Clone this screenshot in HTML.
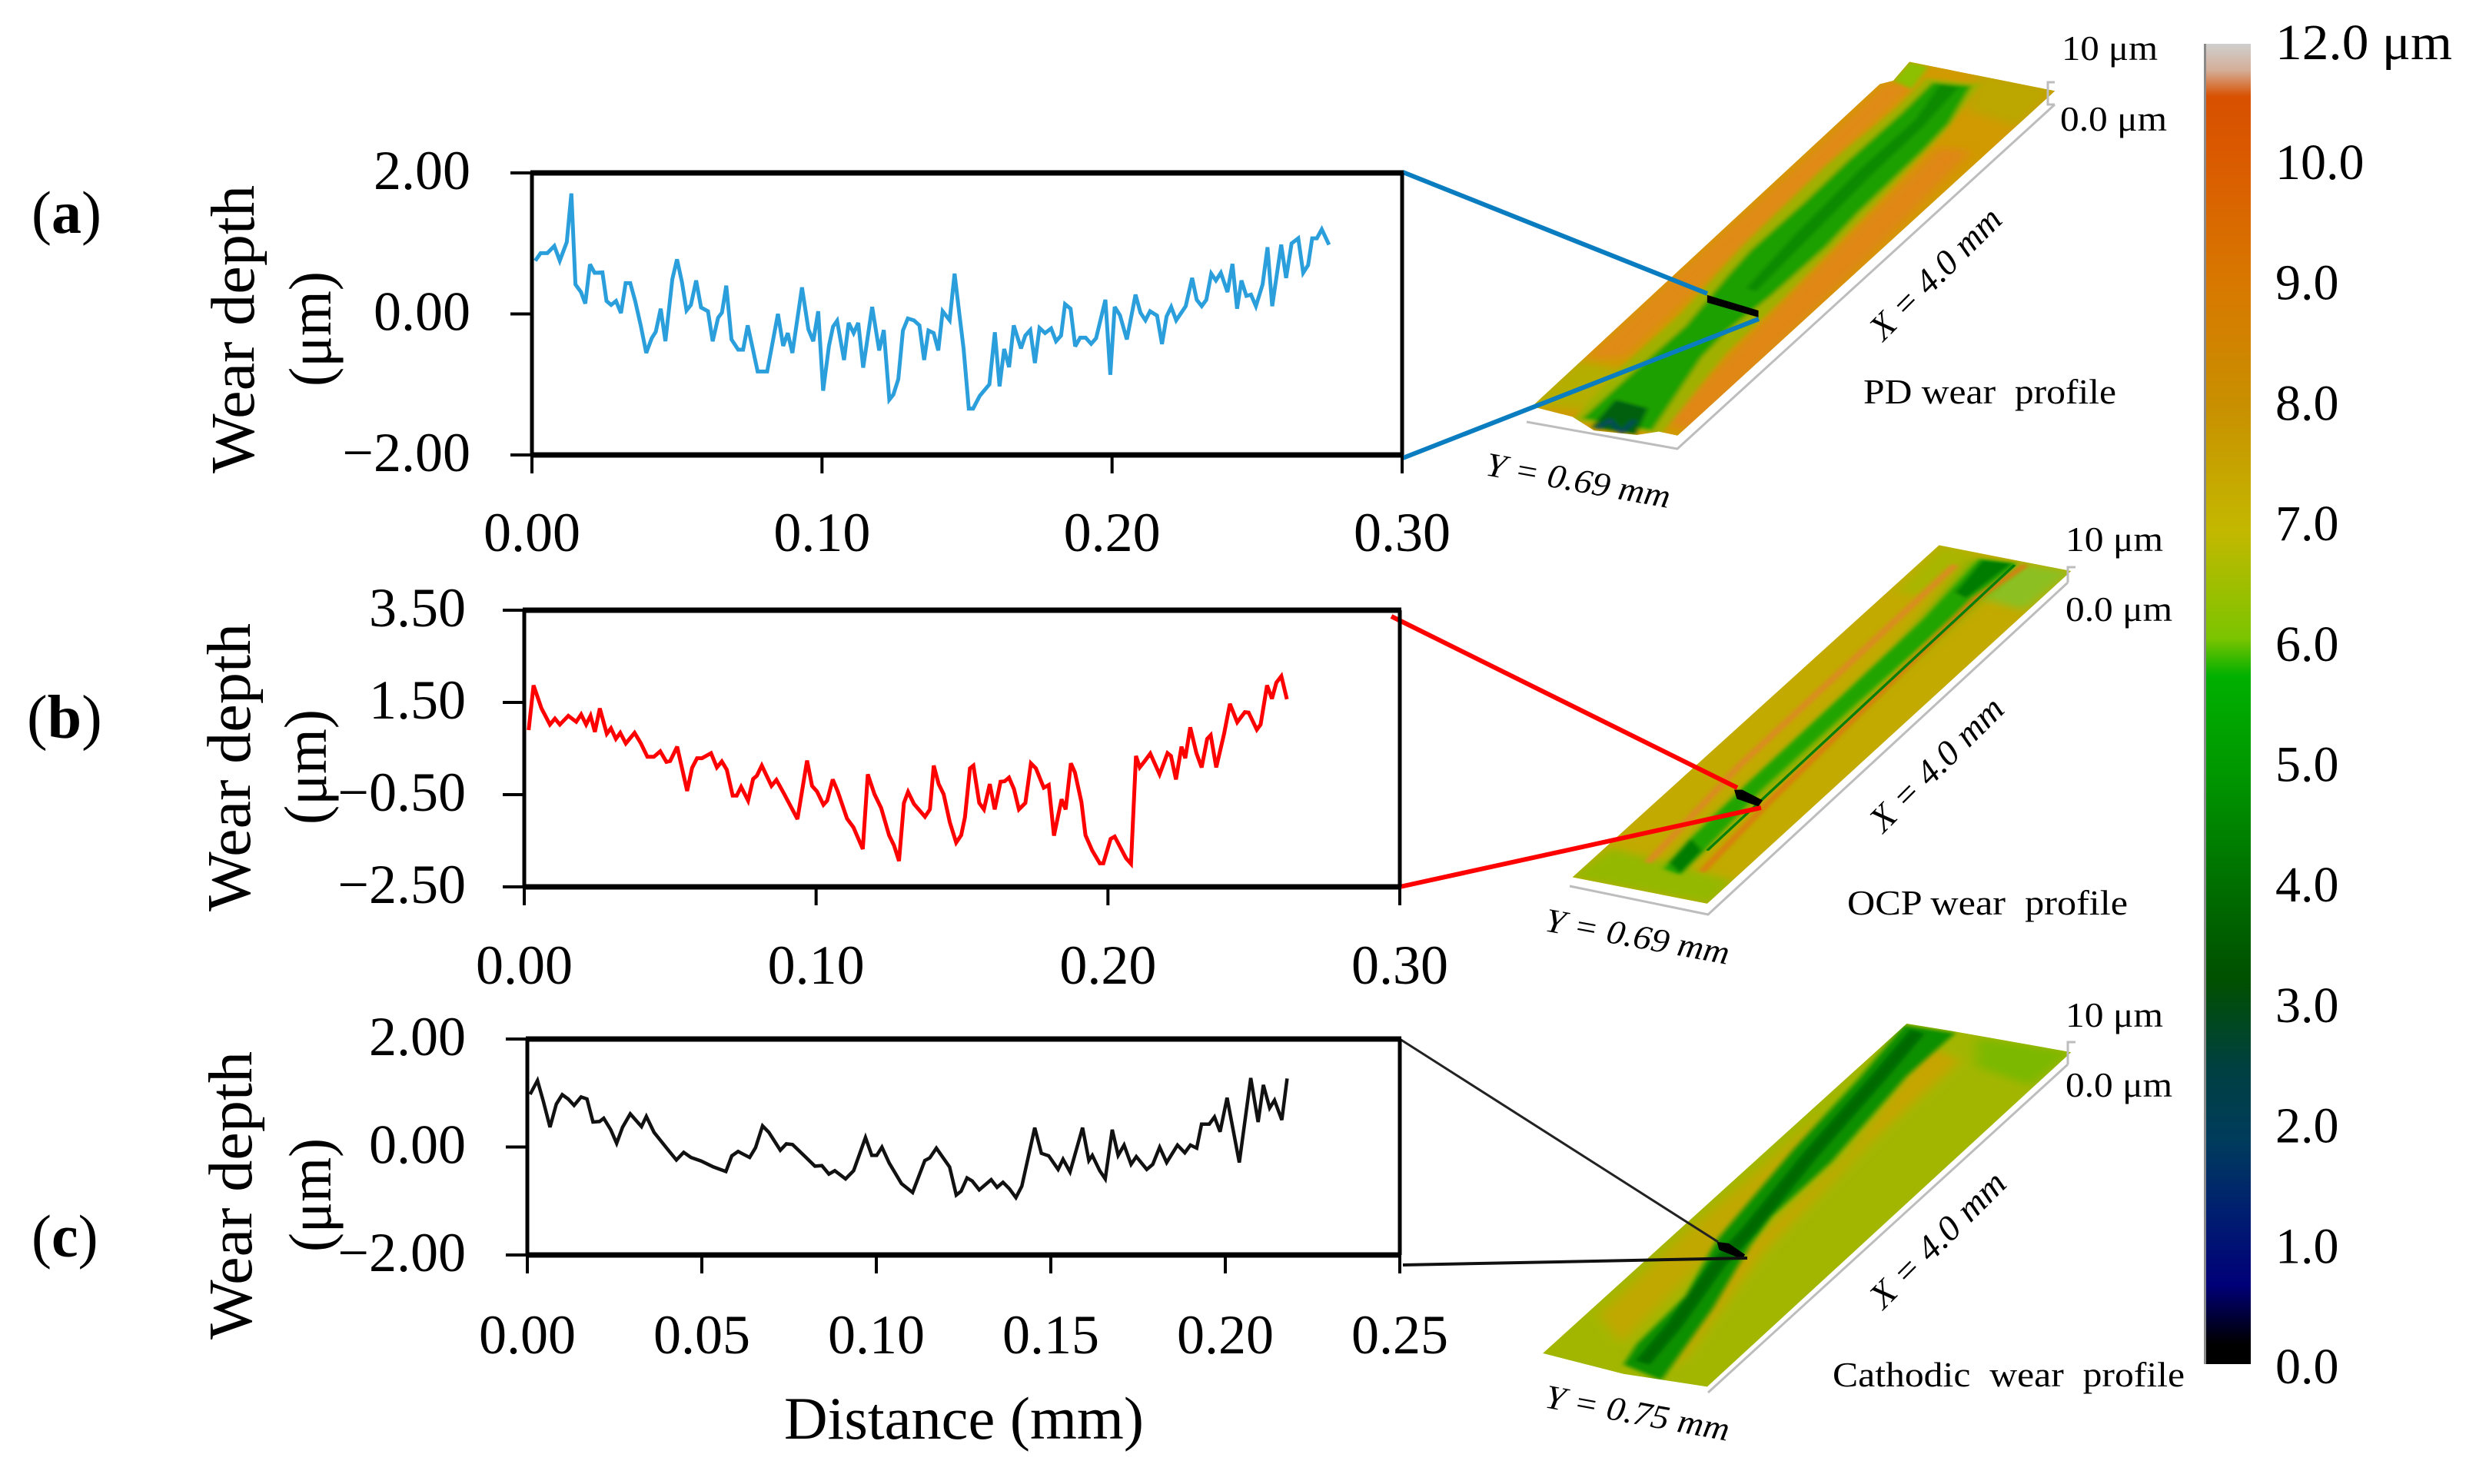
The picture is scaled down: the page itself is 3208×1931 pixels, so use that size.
<!DOCTYPE html>
<html lang="en">
<head>
<meta charset="utf-8">
<title>Wear depth profiles</title>
<style>
html,body{margin:0;padding:0;background:#fff}
svg{display:block}
text{font-family:"Liberation Serif",serif;fill:#000}
</style>
</head>
<body>
<svg id="fig" xmlns="http://www.w3.org/2000/svg" width="3208" height="1931" viewBox="0 0 3208 1931">
<defs>
<filter id="b6" filterUnits="userSpaceOnUse" x="0" y="0" width="2000" height="2000"><feGaussianBlur stdDeviation="5"/></filter>
<filter id="b14" filterUnits="userSpaceOnUse" x="0" y="0" width="2000" height="2000"><feGaussianBlur stdDeviation="12"/></filter>
<clipPath id="clipA"><polygon points="975,180 1245,265 545,1270 510,1258 470,1268 390,1255 350,1215 275,1185 920,245 945,235"/></clipPath>
<clipPath id="clipB"><polygon points="1030,125 1275,210 600,1305 350,1218"/></clipPath>
<clipPath id="clipC"><polygon points="970,125 1060,150 1275,215 600,1265 445,1225 295,1160"/></clipPath>
<linearGradient id="cbar" gradientUnits="userSpaceOnUse" x1="0" y1="57" x2="0" y2="1775">
<stop offset="0" stop-color="#cfcfcf"/>
<stop offset="0.02" stop-color="#d4ae98"/>
<stop offset="0.04" stop-color="#d85000"/>
<stop offset="0.085" stop-color="#da5a00"/>
<stop offset="0.182" stop-color="#d87800"/>
<stop offset="0.275" stop-color="#c89000"/>
<stop offset="0.368" stop-color="#c4b800"/>
<stop offset="0.45" stop-color="#7cc400"/>
<stop offset="0.479" stop-color="#00b000"/>
<stop offset="0.55" stop-color="#009800"/>
<stop offset="0.648" stop-color="#006a00"/>
<stop offset="0.709" stop-color="#005000"/>
<stop offset="0.775" stop-color="#004040"/>
<stop offset="0.83" stop-color="#003c5c"/>
<stop offset="0.885" stop-color="#001f70"/>
<stop offset="0.94" stop-color="#000078"/>
<stop offset="0.985" stop-color="#000000"/>
<stop offset="1" stop-color="#000000"/>
</linearGradient>
</defs>
<rect width="3208" height="1931" fill="#fff"/>

<!-- Surface A -->
<g transform="translate(1800,0) scale(0.7015,0.4464)">
<g clip-path="url(#clipA)">
<polygon points="975,180 1245,265 545,1270 510,1258 470,1268 390,1255 350,1215 275,1185 920,245 945,235" fill="#d09a00"/>
<g filter="url(#b14)">
<polygon points="925,245 990,240 800,520 600,820 450,1040 370,1050 540,800 760,490" fill="#e08a14"/>
<polygon points="520,1230 570,1260 920,720 1090,440 1030,430 860,690" fill="#e08612"/>
<polygon points="260,1180 400,1200 480,1090 360,1050" fill="#b4ae00"/>
<polygon points="1100,210 1250,260 1180,370 1080,320" fill="#bca600"/>
</g>
<polygon points="945,235 975,180 1010,195 980,260" fill="#8cc000" filter="url(#b6)"/>
<g filter="url(#b6)">
<polygon opacity="0.85" points="1005,228 1108,245 1040,385 885,640 735,880 635,1030 515,1265 350,1225 440,1070 550,915 670,710 822,480 950,315" fill="#98b400"/>
<polygon points="1018,240 1090,250 1048,360 1000,440 880,620 820,720 720,860 640,960 590,1040 498,1255 368,1220 452,1100 560,950 640,800 680,730 780,590 860,470 960,330" fill="#1ea000"/>
<polygon opacity="0.8" points="1032,245 1066,255 1000,370 905,510 785,700 690,850 672,840 765,680 885,490 985,350" fill="#0c8400"/>
<polygon points="385,1245 468,1266 490,1190 430,1165" fill="#00600a"/>
<polyline points="395,1250 420,1225 440,1262 465,1225" fill="none" stroke="#0a3a70" stroke-width="6"/>
</g>
</g>
<polygon points="600,860 695,905 695,925 600,882" fill="#000"/>
</g>

<!-- Surface B -->
<g transform="translate(1800,660) scale(0.7015,0.3953)">
<g clip-path="url(#clipB)">
<polygon points="1030,125 1275,210 600,1305 350,1218" fill="#c2aa00"/>
<g filter="url(#b14)">
<polygon points="340,1218 610,1310 650,1230 420,1120" fill="#94b800"/>
<polygon points="1030,125 1100,150 1000,290 950,280" fill="#a9b600"/>
<polygon points="1180,185 1280,210 1190,340 1110,300" fill="#8cc020"/>
<polygon points="1090,170 1180,190 1000,470 800,790 670,1000 540,1210 520,1180 600,1040 780,760 950,470" fill="#70b400"/>
</g>
<g filter="url(#b6)">
<polyline points="1060,190 660,850 490,1170" fill="none" stroke="#dc8a20" stroke-width="14"/>
<polygon points="1105,170 1175,185 1040,390 880,640 700,930 600,1120 550,1210 520,1190 570,1090 680,900 850,620 1000,370" fill="#22a400"/>
<polygon points="1110,175 1165,185 1080,300 1060,280" fill="#007c00"/>
<polygon points="530,1170 570,1090 590,1130 550,1205" fill="#007c00"/>
<polyline points="1190,190 1100,300 950,560 720,960 590,1200" fill="none" stroke="#dc7c10" stroke-width="12"/>
</g>
<polyline points="1170,190 600,1130" fill="none" stroke="#00800a" stroke-width="6"/>
</g>
<polygon points="650,930 665,930 703,965 695,985 655,960" fill="#000"/>
</g>

<!-- Surface C -->
<g transform="translate(1800,1280) scale(0.7015,0.4146)">
<g clip-path="url(#clipC)">
<polygon points="970,125 1060,150 1275,215 600,1265 445,1225 295,1160" fill="#a2b600"/>
<g filter="url(#b14)">
<polygon points="820,400 740,520 560,780 400,1040 440,1130 620,830 780,560" fill="#c0a800"/>
<polygon points="1010,200 1070,240 900,500 700,850 560,1170 520,1220 640,880 860,540" fill="#c6a400"/>
<polygon points="1100,170 1275,215 1200,320 1100,260" fill="#7cb800"/>
</g>
<g filter="url(#b6)">
<polygon points="965,130 1060,155 970,290 830,560 720,730 680,820 610,1020 515,1245 445,1195 470,1130 560,980 620,800 760,520 880,300" fill="#0e9000"/>
<polyline points="990,150 920,290 790,540 680,770 620,880 540,1070 480,1190" fill="none" stroke="#006a00" stroke-width="30"/>
</g>
</g>
<polygon points="618,810 640,815 670,850 665,865 622,835" fill="#000"/>
</g>

<!-- Grey 3-D axes -->
<g fill="none" stroke="#bdbdbd" stroke-width="3">
<polyline points="1986,549 2182,584 2673,136"/>
<polyline points="2673,107 2664,107 2664,136 2673,136"/>
<polyline points="2042,1153 2222,1190 2690,758"/>
<polyline points="2700,738 2690,738 2690,758"/>
<polyline points="2222,1812 2690,1385"/>
<polyline points="2700,1356 2690,1356 2690,1385"/>
</g>

<!-- Connector lines -->
<line x1="1825" y1="224" x2="2221" y2="382" stroke="#0a7cc0" stroke-width="6"/>
<line x1="1825" y1="596" x2="2288" y2="415" stroke="#0a7cc0" stroke-width="6"/>
<line x1="1810" y1="802" x2="2260" y2="1025" stroke="#ff0000" stroke-width="6"/>
<line x1="1821" y1="1154" x2="2291" y2="1051" stroke="#ff0000" stroke-width="6"/>
<line x1="1821" y1="1352" x2="2235" y2="1616" stroke="#222" stroke-width="3"/>
<line x1="1825" y1="1646" x2="2273" y2="1637" stroke="#111" stroke-width="4"/>

<!-- Static labels -->
<text x="41" y="303" font-size="78">(<tspan font-weight="bold">a</tspan>)</text>
<text x="35" y="960" font-size="80">(<tspan font-weight="bold">b</tspan>)</text>
<text x="41" y="1635" font-size="78">(<tspan font-weight="bold">c</tspan>)</text>

<text transform="translate(330,616) rotate(-90)" font-size="80" textLength="375" lengthAdjust="spacingAndGlyphs">Wear depth</text>
<text transform="translate(430,503) rotate(-90)" font-size="78" textLength="150" lengthAdjust="spacingAndGlyphs">(μm)</text>
<text transform="translate(325,1186) rotate(-90)" font-size="80" textLength="375" lengthAdjust="spacingAndGlyphs">Wear depth</text>
<text transform="translate(424,1073) rotate(-90)" font-size="78" textLength="150" lengthAdjust="spacingAndGlyphs">(μm)</text>
<text transform="translate(327,1743) rotate(-90)" font-size="80" textLength="375" lengthAdjust="spacingAndGlyphs">Wear depth</text>
<text transform="translate(430,1629) rotate(-90)" font-size="78" textLength="148" lengthAdjust="spacingAndGlyphs">(μm)</text>
<text x="1020" y="1872" font-size="78" textLength="468" lengthAdjust="spacingAndGlyphs">Distance (mm)</text>

<text x="2682" y="78" font-size="46" textLength="125" lengthAdjust="spacingAndGlyphs">10 μm</text>
<text x="2680" y="170" font-size="46" textLength="139" lengthAdjust="spacingAndGlyphs">0.0 μm</text>
<text x="2424" y="525" font-size="46" textLength="329" lengthAdjust="spacingAndGlyphs" xml:space="preserve">PD wear  profile</text>
<text transform="translate(2450,445) rotate(-45)" font-size="46" font-style="italic" textLength="222" lengthAdjust="spacingAndGlyphs">X = 4.0 mm</text>
<text transform="translate(1931,618) rotate(10.2)" font-size="44" font-style="italic" textLength="243" lengthAdjust="spacingAndGlyphs">Y = 0.69 mm</text>

<text x="2687" y="717" font-size="46" textLength="127" lengthAdjust="spacingAndGlyphs">10 μm</text>
<text x="2687" y="808" font-size="46" textLength="139" lengthAdjust="spacingAndGlyphs">0.0 μm</text>
<text x="2403" y="1190" font-size="46" textLength="365" lengthAdjust="spacingAndGlyphs" xml:space="preserve">OCP wear  profile</text>
<text transform="translate(2450,1085) rotate(-45)" font-size="46" font-style="italic" textLength="226" lengthAdjust="spacingAndGlyphs">X = 4.0 mm</text>
<text transform="translate(2008,1211) rotate(10.4)" font-size="44" font-style="italic" textLength="243" lengthAdjust="spacingAndGlyphs">Y = 0.69 mm</text>

<text x="2687" y="1336" font-size="46" textLength="127" lengthAdjust="spacingAndGlyphs">10 μm</text>
<text x="2687" y="1427" font-size="46" textLength="139" lengthAdjust="spacingAndGlyphs">0.0 μm</text>
<text x="2384" y="1804" font-size="46" textLength="458" lengthAdjust="spacingAndGlyphs" xml:space="preserve">Cathodic  wear  profile</text>
<text transform="translate(2450,1705) rotate(-45)" font-size="46" font-style="italic" textLength="230" lengthAdjust="spacingAndGlyphs">X = 4.0 mm</text>
<text transform="translate(2008,1831) rotate(10.4)" font-size="44" font-style="italic" textLength="243" lengthAdjust="spacingAndGlyphs">Y = 0.75 mm</text>

<!-- Colour bar -->
<rect x="2867" y="57" width="61" height="1718" fill="url(#cbar)"/>
<rect x="2867" y="57" width="3" height="1718" fill="#8a8a8a"/>
<g id="colorbarLabels"></g>
<g id="plots"></g>
</svg>

<script>
// Panel (a) PD wear profile: distance in mm, depth in um
const pdDistance = [.0011,.0030,.0053,.0077,.0096,.0120,.0136,.0150,.0169,.0184,.0200,.0216,.0243,.0257,.0273,.0290,.0307,.0323,.0339,.0356,.0375,.0394,.0413,.0427,.0444,.0460,.0484,.0500,.0517,.0533,.0548,.0566,.0583,.0607,.0623,.0642,.0655,.0670,.0688,.0711,.0728,.0744,.0761,.0778,.0811,.0848,.0866,.0882,.0898,.0931,.0953,.0970,.0987,.1004,.1024,.1038,.1052,.1076,.1092,.1109,.1125,.1142,.1173,.1197,.1213,.1232,.1246,.1263,.1279,.1296,.1317,.1336,.1352,.1367,.1385,.1401,.1416,.1440,.1457,.1473,.1488,.1506,.1521,.1544,.1577,.1596,.1612,.1628,.1645,.1661,.1686,.1701,.1718,.1734,.1750,.1769,.1790,.1807,.1824,.1838,.1857,.1873,.1890,.1909,.1928,.1945,.1977,.1994,.2009,.2027,.2051,.2081,.2098,.2115,.2131,.2155,.2172,.2188,.2204,.2221,.2254,.2276,.2292,.2309,.2325,.2342,.2358,.2375,.2398,.2415,.2431,.2446,.2463,.2479,.2496,.2519,.2536,.2552,.2583,.2600,.2619,.2642,.2659,.2676,.2690,.2706,.2723,.2748];
const pdDepth = [.754,.862,.862,.964,.754,1.019,1.709,.419,.310,.147,.703,.583,.590,.183,.128,.183,.012,.437,.437,.183,-.162,-.554,-.344,-.253,.074,-.387,.492,.775,.455,.049,.128,.474,.092,.038,-.387,-.053,.019,.401,-.362,-.507,-.507,-.162,-.489,-.816,-.816,.001,-.453,-.271,-.554,.376,-.217,-.387,.038,-1.089,-.453,-.180,-.097,-.653,-.126,-.271,-.126,-.762,.099,-.518,-.228,-1.216,-1.143,-.925,-.235,-.064,-.090,-.162,-.653,-.235,-.271,-.518,.038,-.090,.572,.020,-.489,-1.343,-1.343,-1.161,-.998,-.260,-1.027,-.496,-.754,-.162,-.489,-.307,-.228,-.696,-.198,-.271,-.206,-.387,-.307,.139,.074,-.460,-.337,-.337,-.424,-.344,.201,-.863,.099,-.017,-.362,.274,.019,-.090,.038,-.024,-.427,-.035,.099,-.090,.110,.510,.201,.110,.201,.572,.474,.583,.310,.710,.074,.474,.256,.274,.110,.419,.946,.110,.982,.510,1.000,1.073,.583,.692,1.073,1.073,1.200,.982];

// Panel (b) OCP wear profile
const ocpDistance = [.0015,.0032,.0059,.0088,.0105,.0122,.0151,.0178,.0195,.0212,.0227,.0242,.0259,.0283,.0297,.0314,.0329,.0348,.0378,.0399,.0422,.0444,.0466,.0487,.0500,.0524,.0558,.0575,.0592,.0609,.0640,.0660,.0677,.0694,.0714,.0728,.0743,.0767,.0784,.0797,.0814,.0847,.0864,.0891,.0936,.0969,.0986,.1003,.1025,.1038,.1057,.1074,.1106,.1128,.1160,.1177,.1200,.1223,.1250,.1267,.1284,.1301,.1315,.1335,.1373,.1390,.1403,.1420,.1437,.1458,.1480,.1497,.1510,.1527,.1539,.1559,.1575,.1595,.1612,.1632,.1646,.1661,.1678,.1695,.1717,.1736,.1753,.1780,.1797,.1815,.1841,.1855,.1873,.1887,.1909,.1923,.1946,.1972,.1984,.2009,.2023,.2062,.2079,.2096,.2109,.2124,.2145,.2177,.2204,.2216,.2233,.2252,.2265,.2282,.2303,.2321,.2340,.2352,.2371,.2398,.2418,.2443,.2469,.2482,.2510,.2523,.2545,.2562,.2577,.2594,.2613];
const ocpDepth = [.90,1.87,1.37,1.02,1.15,1.02,1.21,1.08,1.24,1.02,1.21,.86,1.37,.82,.94,.71,.84,.61,.84,.62,.32,.32,.44,.21,.23,.54,-.42,.08,.29,.29,.40,.09,.22,.04,-.52,-.52,-.33,-.63,-.16,-.09,.13,-.31,-.18,-.49,-1.03,.24,-.31,-.43,-.72,-.63,-.17,-.43,-1.02,-1.21,-1.68,-.06,-.49,-.79,-1.38,-1.60,-1.94,-.68,-.44,-.70,-.98,-.82,.13,-.27,-.49,-1.10,-1.54,-1.38,-.99,.07,.13,-.68,-.82,-.27,-.82,-.22,-.21,-.13,-.38,-.82,-.68,.18,.07,-.35,-.29,-1.39,-.60,-.82,.18,-.02,-.66,-1.38,-1.71,-1.99,-1.99,-1.46,-1.41,-1.88,-2.00,.34,.09,.21,.39,-.06,.40,.34,-.17,.54,.29,.96,.40,.09,.71,.79,.09,.82,1.47,1.07,1.29,1.28,.91,1.02,1.87,1.58,1.93,2.07,1.57];

// Panel (c) Cathodic wear profile
const cathodicDistance = [.0008,.0029,.0046,.0065,.0083,.0100,.0117,.0134,.0154,.0171,.0188,.0207,.0219,.0239,.0256,.0273,.0295,.0327,.0341,.0363,.0401,.0427,.0448,.0469,.0498,.0533,.0569,.0586,.0604,.0618,.0637,.0654,.0674,.0692,.0725,.0742,.0760,.0796,.0824,.0844,.0864,.0881,.0912,.0935,.0969,.0987,.1001,.1016,.1037,.1072,.1104,.1139,.1153,.1172,.1210,.1229,.1243,.1260,.1275,.1295,.1329,.1346,.1363,.1381,.1400,.1417,.1454,.1473,.1494,.1521,.1535,.1555,.1591,.1609,.1619,.1640,.1656,.1676,.1693,.1710,.1730,.1745,.1775,.1792,.1812,.1832,.1863,.1884,.1900,.1918,.1932,.1954,.1969,.1985,.2005,.2040,.2073,.2094,.2109,.2127,.2141,.2162,.2177];
const cathodicDepth = [.975,1.231,.842,.367,.794,.970,.889,.771,.927,.889,.462,.472,.533,.320,.068,.367,.614,.377,.567,.272,-.036,-.240,-.098,-.193,-.259,-.368,-.454,-.164,-.083,-.131,-.193,-.012,.391,.272,-.060,.059,.045,-.178,-.354,-.344,-.501,-.439,-.591,-.439,.177,-.155,-.155,-.003,-.297,-.677,-.843,-.250,-.202,-.022,-.368,-.890,-.819,-.572,-.629,-.795,-.605,-.748,-.653,-.771,-.938,-.724,.358,-.117,-.164,-.416,-.226,-.463,.358,-.250,-.155,-.439,-.591,.320,-.155,.035,-.321,-.178,-.416,-.321,-.003,-.287,.035,-.107,.035,-.022,.424,.424,.557,.282,.913,-.287,1.278,.462,1.150,.723,.866,.500,1.269];

// Tick values
const pdXTicks = [0, 0.10, 0.20, 0.30];
const pdYTicks = [2, 0, -2];
const ocpXTicks = [0, 0.10, 0.20, 0.30];
const ocpYTicks = [3.5, 1.5, -0.5, -2.5];
const cathodicXTicks = [0, 0.05, 0.10, 0.15, 0.20, 0.25];
const cathodicYTicks = [2, 0, -2];
const colorbarTicks = ["12.0 μm", "10.0", "9.0", "8.0", "7.0", "6.0", "5.0", "4.0", "3.0", "2.0", "1.0", "0.0"];

const SVGNS = "http://www.w3.org/2000/svg";

function make(parent, tag, attrs, content) {
  const el = document.createElementNS(SVGNS, tag);
  for (const k in attrs) el.setAttribute(k, attrs[k]);
  if (content !== undefined) el.textContent = content;
  parent.appendChild(el);
  return el;
}

function fmt(v) {
  return (v < 0 ? "\u2212" : "") + Math.abs(v).toFixed(2);
}

function drawPanel(root, key, box, xTicks, yTicks, xs, ys, color, width) {
  const xMax = xTicks[xTicks.length - 1];
  const yMax = Math.max.apply(null, yTicks);
  const yMin = Math.min.apply(null, yTicks);
  const xScale = v => box.left + (v / xMax) * (box.right - box.left);
  const yScale = v => box.top + ((yMax - v) / (yMax - yMin)) * (box.bottom - box.top);

  const g = make(root, "g", {});
  
  

  xTicks.forEach(t => {
    const tick = make(g, "line", {x1: xScale(t), x2: xScale(t), y1: box.bottom, y2: box.bottom + 24, stroke: "#000", "stroke-width": 4});
    
    
    const lab = make(g, "text", {x: xScale(t), y: box.xLabelY, "font-size": 72, "text-anchor": "middle"}, t.toFixed(2));
    
    
  });

  yTicks.forEach(t => {
    const tick = make(g, "line", {x1: box.left - 28, x2: box.left, y1: yScale(t), y2: yScale(t), stroke: "#000", "stroke-width": 4});
    
    
    const lab = make(g, "text", {x: box.yLabelX, y: yScale(t) + 21, "font-size": 72, "text-anchor": "end"}, fmt(t));
    
    
  });

  let d = "";
  xs.forEach((x, i) => {
    d += (i ? "L" : "M") + xScale(x).toFixed(1) + " " + yScale(ys[i]).toFixed(1);
  });
  const line = make(g, "path", {d: d, fill: "none", stroke: color, "stroke-width": width, "stroke-linejoin": "miter", "stroke-miterlimit": 3});
  
  

  const frameV = make(g, "path", {d: "M" + box.left + " " + box.top + "V" + box.bottom + "M" + box.right + " " + box.top + "V" + box.bottom, fill: "none", stroke: "#000", "stroke-width": 5});
  
  
  const frameH = make(g, "path", {d: "M" + (box.left - 2) + " " + box.top + "H" + (box.right + 2) + "M" + (box.left - 2) + " " + box.bottom + "H" + (box.right + 2), fill: "none", stroke: "#000", "stroke-width": 7});
  
  
}

const plots = document.getElementById("plots");
drawPanel(plots, "pd", {left: 692, right: 1824, top: 225, bottom: 592, xLabelY: 717, yLabelX: 612}, pdXTicks, pdYTicks, pdDistance, pdDepth, "#2a9fdc", 5);
drawPanel(plots, "ocp", {left: 682, right: 1821, top: 794, bottom: 1154, xLabelY: 1280, yLabelX: 606}, ocpXTicks, ocpYTicks, ocpDistance, ocpDepth, "#ff0000", 5);
drawPanel(plots, "cathodic", {left: 686, right: 1821, top: 1352, bottom: 1633, xLabelY: 1761, yLabelX: 606}, cathodicXTicks, cathodicYTicks, cathodicDistance, cathodicDepth, "#111111", 4.5);

const cbGroup = document.getElementById("colorbarLabels");
colorbarTicks.forEach((label, i) => {
  const baseY = i === 0 ? 77 : 233 + (i - 1) * 156.7;
  const t = make(cbGroup, "text", {x: 2960, y: baseY, "font-size": 66}, label);
  if (i === 0) t.setAttribute("textLength", "230");
  if (i === 0) t.setAttribute("lengthAdjust", "spacingAndGlyphs");
  
  
});
</script>
</body>
</html>
